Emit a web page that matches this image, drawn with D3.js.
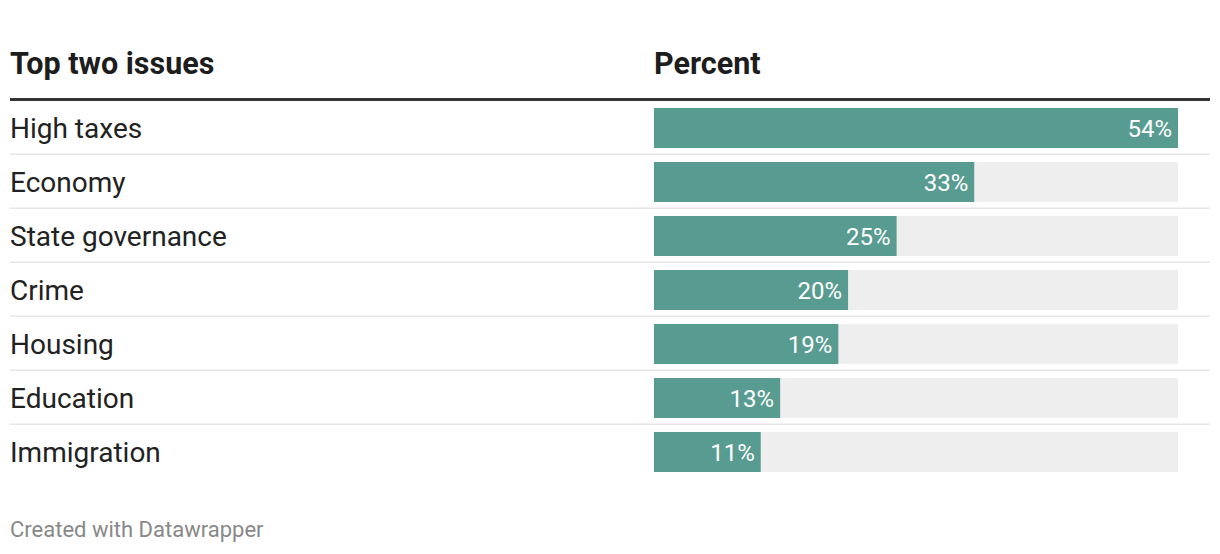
<!DOCTYPE html>
<html><head><meta charset="utf-8">
<script src="https://cdn.jsdelivr.net/npm/d3@7"></script>
<style>
html,body{margin:0;padding:0;background:#fff;}
svg{display:block;font-family:Roboto, "Noto Sans", sans-serif;}
</style></head>
<body>
<svg id="chart" width="1220" height="554"></svg>
<script>
const categories = ["High taxes","Economy","State governance","Crime","Housing","Education","Immigration"];
const values = [54,33,25,20,19,13,11];
const headerLabels = ["Top two issues","Percent"];
const footerText = "Created with Datawrapper";

const svg = d3.select("#chart");
const left = 10, right = 1210, barX0 = 654, barX1 = 1178;
const rowTop = 101, rowH = 54;

const x = d3.scaleLinear().domain([0, d3.max(values)]).range([barX0, barX1]);
const y = d3.scaleBand().domain(categories).range([rowTop, rowTop + rowH*categories.length]).paddingInner(0).paddingOuter(0);

// header
svg.append("text").attr("x", left).attr("y", 73.5).attr("font-size", 30.5).attr("font-weight", 700).attr("fill", "#1d1d1d").text(headerLabels[0]);
svg.append("text").attr("x", barX0).attr("y", 73.5).attr("font-size", 30.5).attr("font-weight", 700).attr("fill", "#1d1d1d").text(headerLabels[1]);
svg.append("rect").attr("x", left).attr("y", 98).attr("width", right-left).attr("height", 3).attr("fill", "#333");

const rows = svg.selectAll("g.row").data(categories).join("g").attr("class","row")
  .attr("transform", d => `translate(0,${y(d)})`);

rows.filter((d,i) => i < categories.length-1).append("rect")
  .attr("x", left).attr("y", rowH - 1.5).attr("width", right-left).attr("height", 1.5).attr("fill", "#e6e6e6");

rows.append("text").attr("x", left).attr("y", 37)
  .attr("font-size", 28).attr("fill", "#222").text(d => d);

rows.append("rect").attr("x", x(0)).attr("y", 7).attr("width", x(d3.max(values)) - x(0)).attr("height", 40).attr("fill", "#eeeeee");
rows.append("rect").attr("x", x(0)).attr("y", 7).attr("width", (d,i) => x(values[i]) - x(0)).attr("height", 40).attr("fill", "#589c91");
rows.append("text").attr("x", (d,i) => x(values[i]) - 6).attr("y", 35.5)
  .attr("text-anchor", "end").attr("font-size", 24).attr("fill", "#fff").text((d,i) => values[i] + "%");

svg.append("text").attr("x", left).attr("y", 537).attr("font-size", 22).attr("fill", "#888").text(footerText);
</script>
</body></html>
